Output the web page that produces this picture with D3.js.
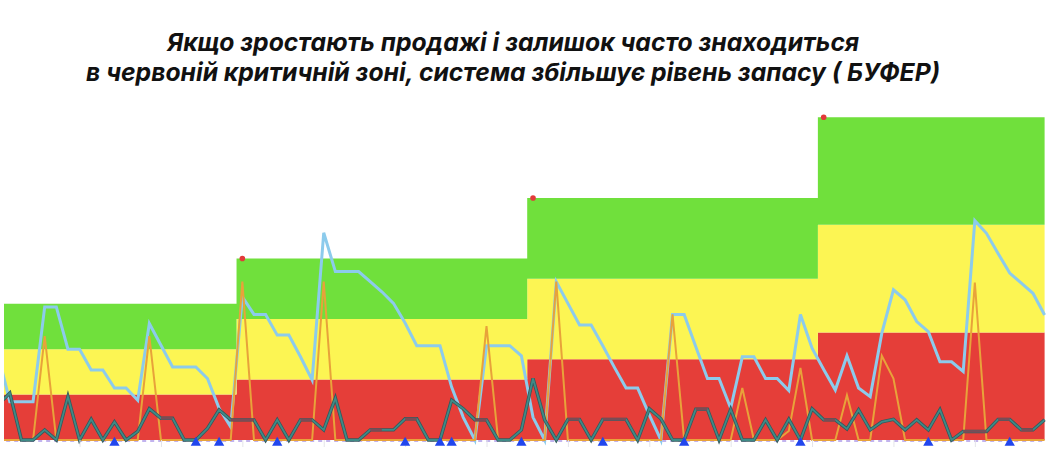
<!DOCTYPE html>
<html>
<head>
<meta charset="utf-8">
<script src="https://cdn.jsdelivr.net/npm/d3@7"></script>
<style>
  html, body { margin: 0; padding: 0; background: #ffffff; }
  svg { display: block; }
</style>
</head>
<body>
<svg id="chart" width="1050" height="451"></svg>
<script>
// ---------------- DATA ----------------
const titleLines = [
  "Якщо зростають продажі і залишок часто знаходиться",
  "в червоній критичній зоні, система збільшує рівень запасу ( БУФЕР)"
];

// day indices (the first day lies just outside the visible area)
const days = d3.range(-1, 90);

// buffer size per period (start day of the period, buffer size)
const bufferStart = [-1, 20, 45, 70];
const bufferSize  = [27, 36, 48, 64];

// stock on hand (light blue)
const stock = [
  16.9,
  7.6, 7.6, 7.6, 26.4, 26.4, 18.0, 18.0, 13.9, 13.9, 10.3,
  10.3, 7.9, 23.1, 18.8, 14.5, 14.5, 14.5, 12.2, 6.3, 2.6,
  28.4, 24.9, 24.9, 20.8, 20.8, 16.5, 11.9, 41.1, 33.4, 33.4,
  33.4, 31.4, 29.4, 27.1, 23.2, 18.7, 18.7, 18.7, 10.5, 4.5,
  0, 18.7, 18.7, 18.7, 16.7, 4.5, 0, 31.4, 27.1, 22.8,
  22.8, 18.7, 14.4, 10.3, 10.3, 5.0, 0, 24.9, 24.9, 18.5,
  12.2, 12.2, 6.3, 16.5, 16.5, 12.2, 12.2, 9.8, 24.9, 18.2,
  14.0, 9.9, 16.7, 10.3, 8.6, 21.2, 29.8, 27.8, 23.5, 21.5,
  15.5, 15.5, 13.6, 43.5, 41.0, 37.0, 33.1, 31.1, 29.1, 24.8
];
// receipts (orange)
const receipts = [
  0,
  0, 0, 0, 20.6, 0, 0, 0, 0, 0, 0,
  0, 0, 20.6, 0, 0, 0, 0, 0, 0, 0,
  31.4, 0, 0, 0, 0, 0, 0, 31.4, 0, 0,
  0, 0, 0, 0, 0, 0, 0, 0, 0, 0,
  0, 22.6, 0, 0, 0, 0, 0, 31.4, 0, 0,
  0, 0, 0, 0, 0, 0, 0, 24.9, 0, 0,
  0, 0, 0, 10.3, 0, 0, 0, 1.8, 14.3, 0,
  0, 0, 8.9, 0, 0, 16.7, 12.2, 0, 0, 0,
  0, 0, 0, 31.2, 0, 0, 0, 0, 0, 0
];
// daily sales (teal)
const sales = [
  7,
  9.3, 0, 0, 2, 0, 8.6, 0, 4.1, 0, 3.6,
  0, 1.7, 6.2, 4.3, 4.3, 0, 0, 2.3, 6, 4,
  4, 4, 0, 4, 0, 4, 4, 2, 8.3, 0,
  0, 2, 2, 2, 4.2, 4.2, 0, 0, 7.9, 6.2,
  4, 4, 0, 0, 2, 12.2, 4, 0, 4.1, 4.1,
  0, 4.1, 4.1, 4.1, 0, 6.2, 4.2, 0, 0, 6.1,
  6.1, 0, 6.1, 0, 0, 4, 0, 4.1, 0, 6.2,
  4, 4, 2.2, 6, 2, 3.6, 4.1, 2, 4, 2,
  6, 0, 1.7, 1.7, 1.7, 4.1, 4.1, 2, 2, 4
];
// dark flat stretches of the sales line: [from day, to day, value]
const salesFlat = [
  [13, 14, 4.3], [19, 21, 4], [25, 26, 4], [31, 32, 2], [34, 35, 4.2],
  [40, 41, 4], [48, 49, 4.1], [51, 53, 4.1], [59, 60, 6.1], [70, 71, 4],
  [82, 84, 1.7], [85, 86, 4.1], [87, 88, 2]
];
// replenishment orders (blue triangles)
const orderDays = [9, 16, 18, 23, 34, 37, 38, 44, 51, 58, 68, 79, 86];
// weekly grid ticks
const weekTicks = [6, 13, 20, 27, 34, 41, 48, 55, 62, 69, 76, 83];

// ---------------- CHART ----------------
const svg = d3.select("#chart");

const x = d3.scaleLinear().domain([-0.5, 89]).range([4, 1044.6]);
const y = d3.scaleLinear().domain([0, 64]).range([440, 117.3]);

function bufferAt(d) {
  let b = bufferSize[0];
  bufferStart.forEach((s, k) => { if (d >= s) b = bufferSize[k]; });
  return b;
}
const table = days.map((d, i) => ({
  day: d,
  buf: bufferAt(d),
  stock: stock[i],
  receipts: receipts[i],
  sales: sales[i]
}));

svg.append("defs").append("clipPath").attr("id", "plotClip")
  .append("rect")
  .attr("x", x(-0.5)).attr("y", 0)
  .attr("width", x(89) - x(-0.5) + 2).attr("height", 451);

const plot = svg.append("g").attr("clip-path", "url(#plotClip)");

// zones
const zones = [
  { lo: 0, hi: 1 / 3, color: "#e53e39" },
  { lo: 1 / 3, hi: 2 / 3, color: "#fcf553" },
  { lo: 2 / 3, hi: 1, color: "#70e03c" }
];
zones.forEach(z => {
  plot.append("path")
    .datum(table)
    .attr("fill", z.color)
    .attr("d", d3.area()
      .curve(d3.curveStep)
      .x(d => x(d.day))
      .y0(d => y(d.buf * z.lo))
      .y1(d => y(d.buf * z.hi)));
});

// weekly ticks below the baseline
const tickAxis = d3.axisBottom(x).tickValues(weekTicks).tickSize(7).tickFormat("");
const tg = svg.append("g").attr("transform", `translate(0,${y(0)})`).call(tickAxis);
tg.select(".domain").remove();
tg.selectAll(".tick line").attr("stroke", "#e4e4ea").attr("stroke-width", 1);

// baseline dashed lavender
plot.append("path")
  .datum(table)
  .attr("fill", "none")
  .attr("stroke", "#c2b3ee")
  .attr("stroke-width", 2)
  .attr("stroke-dasharray", "4,4")
  .attr("d", d3.line().x(d => x(d.day)).y(() => y(0) + 1));

// stock line
plot.append("path")
  .datum(table)
  .attr("fill", "none")
  .attr("stroke", "#8ccbec")
  .attr("stroke-width", 3)
  .attr("stroke-linejoin", "miter")
  .attr("d", d3.line().x(d => x(d.day)).y(d => y(d.stock)));

// receipts line
plot.append("path")
  .datum(table)
  .attr("fill", "none")
  .attr("stroke", "#e8a23a")
  .attr("stroke-width", 2)
  .attr("d", d3.line().x(d => x(d.day)).y(d => y(d.receipts)));

// sales line (dark edge + teal core)
const salesLine = d3.line().x(d => x(d.day)).y(d => y(d.sales));
plot.append("path")
  .datum(table)
  .attr("fill", "none")
  .attr("stroke", "#34595c")
  .attr("stroke-width", 3.4)
  .attr("d", salesLine);
plot.append("path")
  .datum(table)
  .attr("fill", "none")
  .attr("stroke", "#3f8b87")
  .attr("stroke-width", 1.8)
  .attr("d", salesLine);

// dark flat stretches
plot.selectAll(".flat")
  .data(salesFlat)
  .join("line")
  .attr("class", "flat")
  .attr("x1", d => x(d[0]))
  .attr("x2", d => x(d[1]))
  .attr("y1", d => y(d[2]))
  .attr("y2", d => y(d[2]))
  .attr("stroke", "#7a4c56")
  .attr("stroke-width", 2.6);

// order triangles
svg.selectAll(".order")
  .data(orderDays)
  .join("path")
  .attr("class", "order")
  .attr("d", d3.symbol(d3.symbolTriangle, 46))
  .attr("transform", d => `translate(${x(d)},${y(0) + 2.7})`)
  .attr("fill", "#2146ee");

// buffer increase dots
svg.selectAll(".bufdot")
  .data(bufferStart.slice(1).map((s, k) => ({ day: s, size: bufferSize[k + 1] })))
  .join("circle")
  .attr("class", "bufdot")
  .attr("cx", d => x(d.day))
  .attr("cy", d => y(d.size))
  .attr("r", 2.8)
  .attr("fill", "#e23a3a");

// title
svg.selectAll(".title")
  .data(titleLines)
  .join("text")
  .attr("class", "title")
  .attr("x", 513)
  .attr("y", (d, i) => 51 + i * 30)
  .attr("text-anchor", "middle")
  .attr("font-family", "Inter, sans-serif")
  .attr("font-weight", "bold")
  .attr("font-style", "italic")
  .attr("font-size", 24.7)
  .attr("fill", "#111")
  .text(d => d);
</script>
</body>
</html>
